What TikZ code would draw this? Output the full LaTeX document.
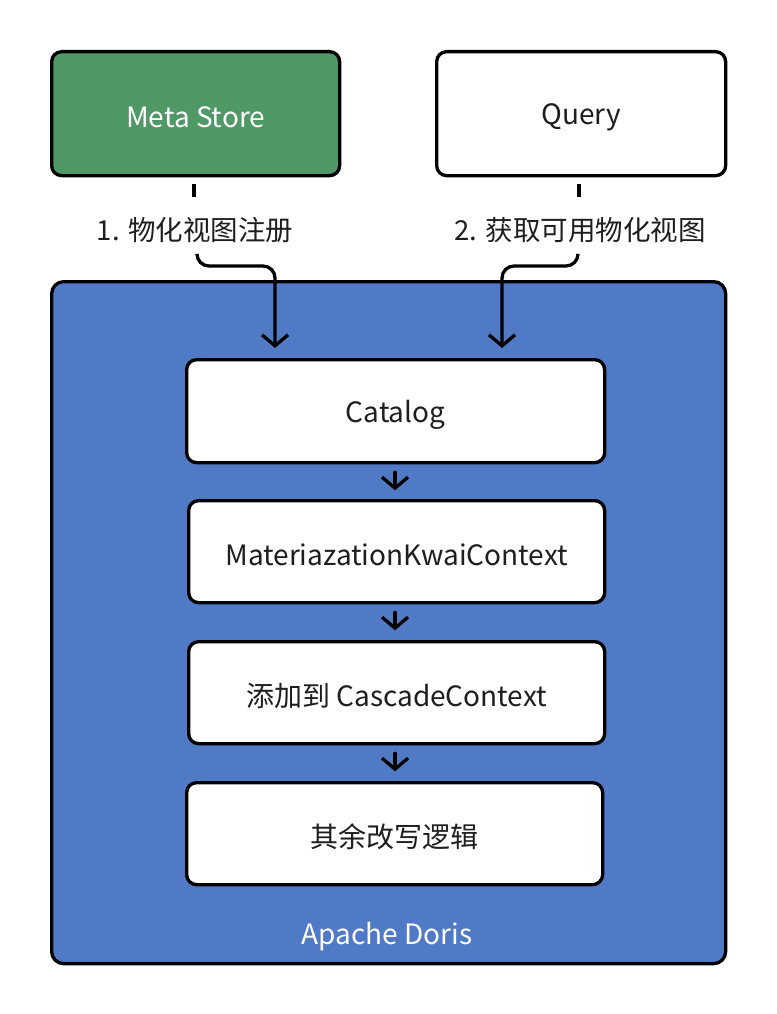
\documentclass[tikz,border=0pt]{standalone}
\usepackage{fontspec}
\setmainfont{Noto Sans CJK SC}
\usetikzlibrary{arrows.meta}
\definecolor{msgreen}{RGB}{80,152,102}
\definecolor{dorisblue}{RGB}{80,121,198}
\definecolor{txt}{RGB}{30,30,30}
\newcommand{\dn}[1]{\raisebox{-3.5pt}[\height][\depth]{#1}}
\tikzset{
  box/.style={draw=black, line width=3.3pt, rounded corners=10pt, fill=white, text=txt, font=\fontsize{28}{32}\selectfont},
  lbl/.style={text=txt, font=\fontsize{27.5}{32}\selectfont, inner sep=0pt},
  conn/.style={draw=black, line width=3.3pt, line cap=round, -{Straight Barb[length=11pt,width=26pt,line width=3.3pt]}},
  tick/.style={draw=black, line width=3.3pt}
}
\begin{document}
\begin{tikzpicture}[x=1pt,y=-1pt]
\useasboundingbox (0,0) rectangle (776,1014);
% outer blue container
\node[box, fill=dorisblue, minimum width=674pt, minimum height=682pt, rounded corners=12pt, anchor=north west] (doris) at (50,280) {};
\node[lbl, text=white, font=\fontsize{28}{32}\selectfont] (dorislbl) at (387,937) {Apache Doris};
% top boxes
\node[box, fill=msgreen, text=white, minimum width=288pt, minimum height=124pt, anchor=north west] (meta) at (50,50) {\dn{Meta Store}};
\node[box, minimum width=289pt, minimum height=124pt, anchor=north west] (query) at (435,50) {\dn{Query}};
% ticks
\coordinate (t1a) at (194,184); \coordinate (t1b) at (194,197);
\coordinate (t2a) at (579,184); \coordinate (t2b) at (579,197);
\draw[tick] (t1a) -- (t1b);
\draw[tick] (t2a) -- (t2b);
% labels
\node[lbl] (l1) at (195,230) {1. 物化视图注册};
\node[lbl] (l2) at (580,230) {2. 获取可用物化视图};
% inner boxes
\node[box, minimum width=418pt, minimum height=103pt, anchor=north west] (catalog) at (185,358) {\dn{Catalog}};
\node[box, minimum width=416pt, minimum height=102pt, anchor=north west] (mkc) at (187,499) {\dn{MateriazationKwaiContext}};
\node[box, minimum width=416pt, minimum height=102pt, anchor=north west] (cascade) at (187,640) {\dn{添加到 CascadeContext}};
\node[box, minimum width=416pt, minimum height=102pt, anchor=north west] (rest) at (185,781) {\dn{其余改写逻辑}};
% curved arrows
\coordinate (c1s) at (197,255);
\coordinate (c1e) at (275,348);
\coordinate (c2s) at (578,255);
\coordinate (c2e) at (502,348);
\draw[conn, rounded corners=12pt] (c1s) |- (275,266) -- (c1e);
\draw[conn, rounded corners=12pt] (c2s) |- (502,266) -- (c2e);
% small arrows
\draw[conn] ([yshift=-8pt]catalog.south -| 395,0) -- ([yshift=-26pt]catalog.south -| 395,0);
\draw[conn] ([yshift=-8pt]mkc.south -| 395,0) -- ([yshift=-26pt]mkc.south -| 395,0);
\draw[conn] ([yshift=-8pt]cascade.south -| 395,0) -- ([yshift=-26pt]cascade.south -| 395,0);
\end{tikzpicture}
\end{document}
